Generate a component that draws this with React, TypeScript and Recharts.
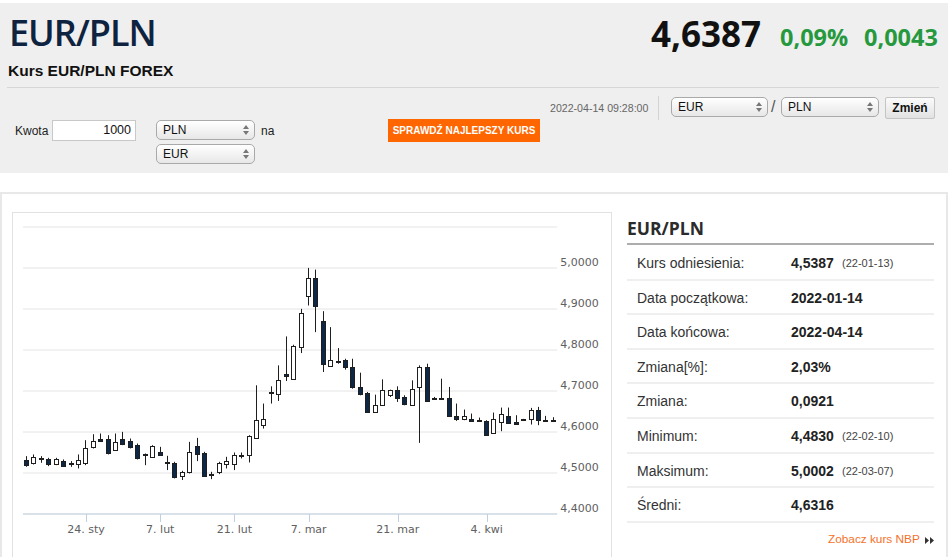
import React from "react";
import { BarChart, Bar, XAxis, YAxis, CartesianGrid } from "recharts";

// EUR/PLN daily candles, 2022-01-12 .. 2022-04-14
const dates = [
  "2022-01-12", "2022-01-13", "2022-01-14", "2022-01-17", "2022-01-18", "2022-01-19", "2022-01-20", "2022-01-21",
  "2022-01-24", "2022-01-25", "2022-01-26", "2022-01-27", "2022-01-28", "2022-01-31", "2022-02-01", "2022-02-02",
  "2022-02-03", "2022-02-04", "2022-02-07", "2022-02-08", "2022-02-09", "2022-02-10", "2022-02-11", "2022-02-14",
  "2022-02-15", "2022-02-16", "2022-02-17", "2022-02-18", "2022-02-21", "2022-02-22", "2022-02-23", "2022-02-24",
  "2022-02-25", "2022-02-28", "2022-03-01", "2022-03-02", "2022-03-03", "2022-03-04", "2022-03-07", "2022-03-08",
  "2022-03-09", "2022-03-10", "2022-03-11", "2022-03-13", "2022-03-14", "2022-03-15", "2022-03-16", "2022-03-17",
  "2022-03-18", "2022-03-20", "2022-03-21", "2022-03-22", "2022-03-23", "2022-03-24", "2022-03-25", "2022-03-27",
  "2022-03-28", "2022-03-29", "2022-03-30", "2022-03-31", "2022-04-01", "2022-04-03", "2022-04-04", "2022-04-05",
  "2022-04-06", "2022-04-07", "2022-04-08", "2022-04-10", "2022-04-11", "2022-04-12", "2022-04-13", "2022-04-14",
];

const opens = [
  4.5314, 4.5233, 4.537, 4.533, 4.5208, 4.5289, 4.5233, 4.5208, 4.5233, 4.5622, 4.5825, 4.5825, 4.5573, 4.5825,
  4.5784, 4.5679, 4.5452, 4.5395, 4.5517, 4.5257, 4.5249, 4.4925, 4.5014, 4.5655, 4.55, 4.4982, 4.503, 4.5216,
  4.5216, 4.5436, 4.5436, 4.5865, 4.6165, 4.697, 4.6937, 4.7406, 4.7284, 4.8071, 4.9328, 4.975, 4.8704, 4.7617,
  4.7739, 4.7747, 4.7584, 4.7098, 4.6952, 4.649, 4.6668, 4.6895, 4.7017, 4.6855, 4.6668, 4.7098, 4.7584, 4.6831,
  4.6831, 4.6839, 4.6385, 4.6312, 4.6312, 4.6304, 4.6263, 4.5979, 4.6247, 4.6393, 4.6247, 4.6312, 4.6312, 4.6531,
  4.6304, 4.6296,
];
const highs = [
  4.5411, 4.5452, 4.5411, 4.537, 4.537, 4.533, 4.5289, 4.5452, 4.58, 4.5946, 4.5963, 4.5922, 4.5963, 4.6003,
  4.5841, 4.5719, 4.5476, 4.5679, 4.5638, 4.5419, 4.5273, 4.5054, 4.576, 4.5857, 4.5517, 4.503, 4.5273, 4.5395,
  4.55, 4.55, 4.5922, 4.7139, 4.6693, 4.7114, 4.7625, 4.8331, 4.8128, 4.9004, 5.0002, 4.9961, 4.8947, 4.8558,
  4.8047, 4.7787, 4.7787, 4.7447, 4.6976, 4.6911, 4.7284, 4.7033, 4.7114, 4.6895, 4.726, 4.7625, 4.7666, 4.6855,
  4.7301, 4.7099, 4.6693, 4.6547, 4.645, 4.6352, 4.6288, 4.6474, 4.6596, 4.6596, 4.6409, 4.632, 4.6588, 4.6612,
  4.6393, 4.6361,
];
const lows = [
  4.5151, 4.5208, 4.5249, 4.5168, 4.5192, 4.5151, 4.5151, 4.5111, 4.5192, 4.5598, 4.576, 4.5452, 4.5557, 4.5679,
  4.5598, 4.533, 4.5192, 4.537, 4.5419, 4.5071, 4.4868, 4.483, 4.499, 4.529, 4.4908, 4.485, 4.4973, 4.5111,
  4.5071, 4.5355, 4.5257, 4.5841, 4.6084, 4.6693, 4.6757, 4.7244, 4.7276, 4.7925, 4.9085, 4.8436, 4.7463, 4.7601,
  4.7666, 4.752, 4.7057, 4.6895, 4.649, 4.6485, 4.6652, 4.6855, 4.6733, 4.6652, 4.6652, 4.5735, 4.6733, 4.6815,
  4.6798, 4.6369, 4.6271, 4.6288, 4.6263, 4.6247, 4.5923, 4.5955, 4.602, 4.6207, 4.6182, 4.6296, 4.6182, 4.6166,
  4.6271, 4.6263,
];
const closes = [
  4.5192, 4.5395, 4.533, 4.5208, 4.533, 4.5168, 4.5216, 4.5314, 4.5614, 4.5784, 4.5792, 4.5476, 4.576, 4.5719,
  4.5622, 4.5354, 4.5435, 4.5654, 4.5436, 4.5241, 4.4892, 4.5014, 4.5517, 4.5452, 4.4933, 4.4965, 4.5233, 4.529,
  4.5435, 4.5427, 4.5898, 4.6287, 4.6311, 4.6985, 4.726, 4.7366, 4.8087, 4.8898, 4.975, 4.9085, 4.7666, 4.7747,
  4.7722, 4.7584, 4.7098, 4.6936, 4.649, 4.6652, 4.7017, 4.7017, 4.6839, 4.6676, 4.7057, 4.7584, 4.6757, 4.6823,
  4.6823, 4.6393, 4.6312, 4.6385, 4.6271, 4.6288, 4.5939, 4.6312, 4.6434, 4.6231, 4.6207, 4.6304, 4.6547, 4.6288,
  4.6288, 4.6288,
];

const xLabels: Record<string, string> = {
  "2022-01-24": "24. sty",
  "2022-02-07": "7. lut",
  "2022-02-21": "21. lut",
  "2022-03-07": "7. mar",
  "2022-03-21": "21. mar",
  "2022-04-04": "4. kwi",
};
const yTicks = [4.4, 4.5, 4.6, 4.7, 4.8, 4.9, 5.0, 5.1];

const statLabels = [
  "Kurs odniesienia:", "Data początkowa:", "Data końcowa:", "Zmiana[%]:",
  "Zmiana:", "Minimum:", "Maksimum:", "Średni:",
];
const statValues = ["4,5387", "2022-01-14", "2022-04-14", "2,03%", "0,0921", "4,4830", "5,0002", "4,6316"];
const statDates = ["(22-01-13)", "", "", "", "", "(22-02-10)", "(22-03-07)", ""];

const data = dates.map((date, i) => ({
  date,
  open: opens[i],
  high: highs[i],
  low: lows[i],
  close: closes[i],
}));

const SANS = '"Liberation Sans", Arial, sans-serif';
const OPEN = '"Open Sans", "Noto Sans", sans-serif';
const CHART_FONT = '"DejaVu Sans", Verdana, sans-serif';

function Candle(props: any) {
  const { x, y, width, height, payload } = props;
  if (x == null || y == null) return null;
  const top = Math.min(y, y + height);
  const bottom = Math.max(y, y + height);
  const { open, close, high, low } = payload;
  const span = high - low;
  const toY = (v: number) => (span === 0 ? top : top + ((high - v) / span) * (bottom - top));
  const c = Math.floor(x + width / 2);
  const up = close >= open;
  const bTop = Math.round(toY(Math.max(open, close)));
  const bBot = Math.round(toY(Math.min(open, close)));
  return (
    <g>
      <line x1={c + 0.5} x2={c + 0.5} y1={top} y2={bottom} stroke="#1e1e1e" strokeWidth={1} />
      <rect
        x={c - 1.5}
        y={bTop + 0.5}
        width={4}
        height={Math.max(bBot - bTop, 1)}
        fill={up ? "#ffffff" : "#0d2747"}
        stroke="#1e1e1e"
        strokeWidth={1}
      />
    </g>
  );
}

function DateTick(props: any) {
  const { x, y, payload } = props;
  const label = xLabels[payload.value];
  if (!label) return null;
  const px = Math.round(x) + 0.5;
  return (
    <g>
      <line x1={px} x2={px} y1={y} y2={y + 8} stroke="#c0d0e0" />
      <text x={x} y={y + 19} textAnchor="middle" fill="#606060" fontSize={11} fontFamily={CHART_FONT}>
        {label}
      </text>
    </g>
  );
}

function PriceTick(props: any) {
  const { x, y, payload } = props;
  if (payload.value > 5.05) return null;
  return (
    <text x={x} y={y - 2} textAnchor="start" fill="#606060" fontSize={11} fontFamily={CHART_FONT}>
      {payload.value.toFixed(4).replace(".", ",")}
    </text>
  );
}

function FakeSelect({ left, top, width, label }: { left: number; top: number; width: number; label: string }) {
  return (
    <div
      style={{
        position: "absolute",
        left,
        top,
        width,
        height: 20,
        boxSizing: "border-box",
        border: "1px solid #a9a9a9",
        borderRadius: 5,
        background: "linear-gradient(#ffffff, #e7e7e7)",
        fontFamily: SANS,
        fontSize: 12,
        color: "#111",
        lineHeight: "18px",
        paddingLeft: 6,
      }}
    >
      {label}
      <svg width="6" height="10" style={{ position: "absolute", right: 5, top: 4 }}>
        <path d="M0 4 L3 0 L6 4 Z M0 6 L3 10 L6 6 Z" fill="#777" />
      </svg>
    </div>
  );
}

function Txt({ left, top, size, children, style }: any) {
  return (
    <div style={{ position: "absolute", left, top, fontSize: size, lineHeight: `${size}px`, whiteSpace: "nowrap", ...style }}>
      {children}
    </div>
  );
}

export default function App() {
  const rowH = 34.6;
  return (
    <div
      style={{
        position: "fixed",
        left: 0,
        top: 0,
        width: 948,
        height: 557,
        overflow: "hidden",
        background: "#ffffff",
        fontFamily: SANS,
      }}
    >
      {/* header panel */}
      <div style={{ position: "absolute", left: 0, top: 3, width: 948, height: 170, background: "#efefef" }} />
      <Txt left={9} top={15} size={36} style={{ fontFamily: OPEN, fontWeight: 600, color: "#0e2340", letterSpacing: -1 }}>
        EUR/PLN
      </Txt>
      <Txt left={8} top={63} size={15.5} style={{ fontFamily: SANS, fontWeight: 700, color: "#111" }}>
        Kurs EUR/PLN FOREX
      </Txt>
      <Txt left={651} top={16} size={35} style={{ fontFamily: OPEN, fontWeight: 700, color: "#111" }}>
        4,6387
      </Txt>
      <Txt left={780} top={26} size={23.5} style={{ fontFamily: OPEN, fontWeight: 700, color: "#26993e" }}>
        0,09%
      </Txt>
      <Txt left={864} top={26} size={23.5} style={{ fontFamily: OPEN, fontWeight: 700, color: "#26993e" }}>
        0,0043
      </Txt>
      <div style={{ position: "absolute", left: 7, top: 87, width: 932, height: 1, background: "#d6d6d6" }} />

      <Txt left={550} top={103} size={10.6} style={{ color: "#666" }}>
        2022-04-14 09:28:00
      </Txt>
      <div style={{ position: "absolute", left: 658, top: 96, width: 1, height: 24, background: "#d3d3d3" }} />
      <FakeSelect left={671} top={97} width={97} label="EUR" />
      <Txt left={771} top={99} size={16} style={{ color: "#555" }}>
        /
      </Txt>
      <FakeSelect left={781} top={97} width={98} label="PLN" />
      <div
        style={{
          position: "absolute",
          left: 885,
          top: 97,
          width: 50,
          height: 22,
          boxSizing: "border-box",
          border: "1px solid #c4c4c4",
          borderRadius: 2,
          background: "linear-gradient(#fbfbfb, #e2e2e2)",
          fontWeight: 700,
          fontSize: 12,
          lineHeight: "20px",
          textAlign: "center",
          color: "#111",
        }}
      >
        Zmień
      </div>

      <Txt left={15} top={125} size={12} style={{ color: "#222" }}>
        Kwota
      </Txt>
      <div
        style={{
          position: "absolute",
          left: 52,
          top: 120,
          width: 84,
          height: 21,
          boxSizing: "border-box",
          border: "1px solid #c8c8c8",
          background: "#fff",
          fontSize: 12.5,
          lineHeight: "19px",
          textAlign: "right",
          paddingRight: 4,
          color: "#111",
        }}
      >
        1000
      </div>
      <FakeSelect left={156} top={120} width={99} label="PLN" />
      <Txt left={261} top={125} size={12} style={{ color: "#222" }}>
        na
      </Txt>
      <FakeSelect left={156} top={144} width={99} label="EUR" />
      <div
        style={{
          position: "absolute",
          left: 388,
          top: 119,
          width: 152,
          height: 23,
          background: "#ff6600",
          color: "#fff",
          fontWeight: 700,
          fontSize: 10,
          lineHeight: "23px",
          textAlign: "center",
        }}
      >
        SPRAWDŹ NAJLEPSZY KURS
      </div>

      {/* content boxes */}
      <div
        style={{
          position: "absolute",
          left: 0,
          top: 192,
          width: 948,
          height: 400,
          boxSizing: "border-box",
          border: "2px solid #e8e8e8",
        }}
      />
      <div
        style={{
          position: "absolute",
          left: 12,
          top: 212,
          width: 600,
          height: 400,
          boxSizing: "border-box",
          border: "1px solid #e2e2e2",
        }}
      />

      <div style={{ position: "absolute", left: 0, top: 200 }}>
        <BarChart
          width={620}
          height={357}
          data={data}
          margin={{ top: 27, right: 2.8, bottom: 13, left: 23 }}
          barCategoryGap={0}
        >
          <CartesianGrid horizontal vertical={false} stroke="#e4e4e4" />
          <XAxis
            dataKey="date"
            type="category"
            interval={0}
            height={30}
            tickSize={0}
            tickMargin={0}
            tickLine={false}
            axisLine={{ stroke: "#c0d0e0" }}
            tick={<DateTick />}
          />
          <YAxis
            orientation="right"
            type="number"
            domain={[4.4, 5.1]}
            ticks={yTicks}
            width={60}
            tickSize={0}
            tickMargin={3}
            tickLine={false}
            axisLine={false}
            allowDataOverflow
            tick={<PriceTick />}
          />
          <Bar dataKey={(d: any) => [d.low, d.high]} shape={<Candle />} isAnimationActive={false} />
        </BarChart>
      </div>

      {/* stats panel */}
      <Txt left={627} top={219.5} size={17.5} style={{ fontFamily: OPEN, fontWeight: 700, color: "#2b2b2b" }}>
        EUR/PLN
      </Txt>
      <div style={{ position: "absolute", left: 627, top: 243, width: 307, height: 2, background: "#adadad" }} />
      {statLabels.map((label, i) => {
        const top = 245 + i * rowH;
        return (
          <div key={label} style={{ position: "absolute", left: 627, top, width: 307, height: rowH }}>
            <div style={{ position: "absolute", left: 10, top: 11, fontSize: 14, lineHeight: "14px", color: "#333" }}>
              {label}
            </div>
            <div
              style={{ position: "absolute", left: 164, top: 11, fontSize: 14, lineHeight: "14px", fontWeight: 700, color: "#222" }}
            >
              {statValues[i]}
            </div>
            {statDates[i] && (
              <div style={{ position: "absolute", left: 215, top: 13, fontSize: 11, lineHeight: "11px", color: "#444" }}>
                {statDates[i]}
              </div>
            )}
            <div style={{ position: "absolute", left: 0, bottom: -1, width: 307, height: 2, background: "#efefef" }} />
          </div>
        );
      })}
      <Txt left={828} top={534} size={11.8} style={{ color: "#f5712b" }}>
        Zobacz kurs NBP
      </Txt>
      <svg width="9" height="7" style={{ position: "absolute", left: 925, top: 537 }}>
        <path d="M0 0 L4 3.5 L0 7 Z M5 0 L9 3.5 L5 7 Z" fill="#333" />
      </svg>
    </div>
  );
}
